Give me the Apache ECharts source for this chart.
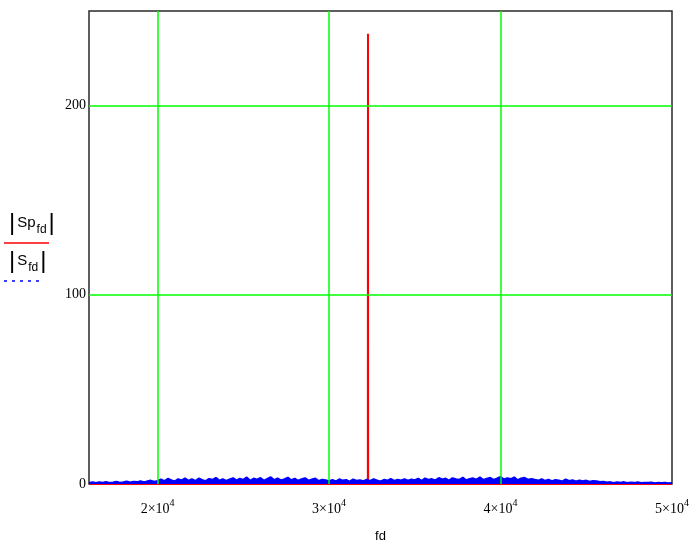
<!DOCTYPE html>
<html>
<head>
<meta charset="utf-8">
<script src="https://cdn.jsdelivr.net/npm/echarts@6/dist/echarts.min.js"></script>
<style>html,body{margin:0;padding:0;background:#fff}#c{width:698px;height:542px}</style>
</head>
<body>
<div id="c"></div>
<script>
// Frequency grid for the blue spectrum |S_fd|
var fdStart = 16000;
var fdStep = 200;
// |S_fd| (blue, dotted in legend)
var sValues = [
 0.6,1.0,0.5,0.9,0.7,1.1,0.6,0.8,1.2,0.7,0.9,1.3,0.8,1.2,1.0,1.5,0.9,1.4,1.8,1.2,
 1.6,2.4,1.5,2.8,2.0,1.4,2.6,1.9,3.0,1.7,2.5,1.6,2.9,2.1,1.5,2.7,2.2,3.3,1.8,2.6,
 1.6,2.4,3.1,1.9,2.8,2.2,3.5,1.7,2.9,2.3,3.2,1.8,2.7,3.6,2.1,3.0,1.9,2.6,3.4,2.0,
 2.8,1.7,2.5,3.1,1.8,2.4,2.9,1.6,2.3,2.0,
 1.5,2.2,1.4,2.5,1.8,2.1,1.3,2.4,1.7,2.0,1.5,2.3,1.6,2.6,1.9,1.4,2.2,1.8,2.7,1.6,
 2.3,1.9,2.5,1.7,2.4,
 2.0,2.8,1.7,3.0,2.2,2.6,1.9,3.2,2.4,2.9,1.8,3.1,2.5,2.2,3.4,2.0,2.7,3.0,2.3,3.6,
 2.1,2.8,3.3,2.2,2.9,3.8,2.4,3.1,2.6,3.5,2.0,2.9,3.3,2.3,2.7,
 2.2,1.8,2.6,1.7,2.3,1.5,2.1,1.9,1.4,2.4,1.6,2.0,1.3,1.9,1.5,1.8,1.2,1.6,1.4,1.1,
 1.2,0.8,1.0,0.6,0.9,0.7,1.0,0.5,0.8,0.6,0.9,0.5,0.7,0.6,0.8,0.4,0.7,0.5,0.6,0.4,0.5
];
// |Sp_fd| (red) : single spectral line
var spX = [16000, 32262, 32270, 32278, 50000];
var spY = [0, 0, 238, 0, 0];
// Axis ticks
var xTicks = [20000, 30000, 40000, 50000];
var xTickMantissa = ['2', '3', '4', '5'];
var yTicks = [0, 100, 200];
var vGrid = [20000, 30000, 40000];
var hGrid = [100, 200];

var sData = sValues.map(function (v, i) { return [fdStart + i * fdStep, v]; });
var spData = spX.map(function (x, i) { return [x, spY[i]]; });

var legendRich = {
  bar: {fontFamily: 'Liberation Sans', fontSize: 24, fill: '#000', lineHeight: 26},
  m: {fontFamily: 'Liberation Sans', fontSize: 15, fill: '#000', lineHeight: 26, padding: [0, 1, 0, 2]},
  sub: {fontFamily: 'Liberation Sans', fontSize: 12, fill: '#000', lineHeight: 20, verticalAlign: 'bottom', padding: [0, 2, 0, 0]}
};

var gridLineData = vGrid.map(function (v) { return {xAxis: v}; })
  .concat(hGrid.map(function (v) { return {yAxis: v}; }));

var chart = echarts.init(document.getElementById('c'), null, {renderer: 'canvas'});
chart.setOption({
  animation: false,
  backgroundColor: '#fff',
  grid: {left: 89, right: 26, top: 11, bottom: 58, outerBoundsMode: 'none', containLabel: false,
         show: true, borderColor: '#2a2a2a', borderWidth: 1.5, backgroundColor: 'transparent'},
  xAxis: {
    type: 'value', min: 16000, max: 50000,
    axisLine: {show: false}, axisTick: {show: false}, splitLine: {show: false},
    axisLabel: {
      customValues: xTicks, margin: 14, color: '#000',
      formatter: function (v) {
        var k = xTicks.indexOf(v);
        return '{b|' + xTickMantissa[k] + '×10}{s|4}';
      },
      rich: {
        b: {fontFamily: 'Liberation Serif', fontSize: 14, color: '#000', lineHeight: 18, verticalAlign: 'bottom'},
        s: {fontFamily: 'Liberation Serif', fontSize: 10, color: '#000', lineHeight: 18, verticalAlign: 'top', padding: [0, 0, 8, 0]}
      }
    },
    name: 'fd', nameLocation: 'middle', nameGap: 46,
    nameTextStyle: {fontFamily: 'Liberation Sans', fontSize: 13, color: '#000'}
  },
  yAxis: {
    type: 'value', min: 0, max: 250, interval: 100,
    axisLine: {show: false}, axisTick: {show: false},
    splitLine: {show: false},
    axisLabel: {
      margin: 3, color: '#000', fontFamily: 'Liberation Serif', fontSize: 14,
      customValues: yTicks
    }
  },
  series: [
    {
      type: 'line', data: [], z: 1, silent: true,
      markLine: {
        silent: true, symbol: 'none', label: {show: false},
        lineStyle: {color: '#00ff00', width: 1.5, type: 'solid', opacity: 1},
        emphasis: {disabled: true},
        data: gridLineData
      }
    },
    {
      name: '|Sp_fd|', type: 'line', data: spData, z: 3, symbol: 'none',
      lineStyle: {color: '#ff0000', width: 2}
    },
    {
      name: '|S_fd|', type: 'line', data: sData, z: 4, symbol: 'none',
      lineStyle: {color: '#0000ff', width: 2},
      areaStyle: {color: '#0000ff', opacity: 1, origin: 'start'}
    }
  ],
  graphic: [
    {type: 'text', left: 9, top: 211, style: {text: '{bar||}{m|Sp}{sub|fd}{bar||}', rich: legendRich}},
    {type: 'line', shape: {x1: 4, y1: 243, x2: 49, y2: 243}, style: {stroke: '#ff0000', lineWidth: 1.5}},
    {type: 'line', shape: {x1: 4, y1: 281, x2: 44, y2: 281}, style: {stroke: '#0000ff', lineWidth: 1.5, lineDash: [3, 5]}},
    {type: 'text', left: 9, top: 249, style: {text: '{bar||}{m|S}{sub|fd}{bar||}', rich: legendRich}}
  ]
});
</script>
</body>
</html>
